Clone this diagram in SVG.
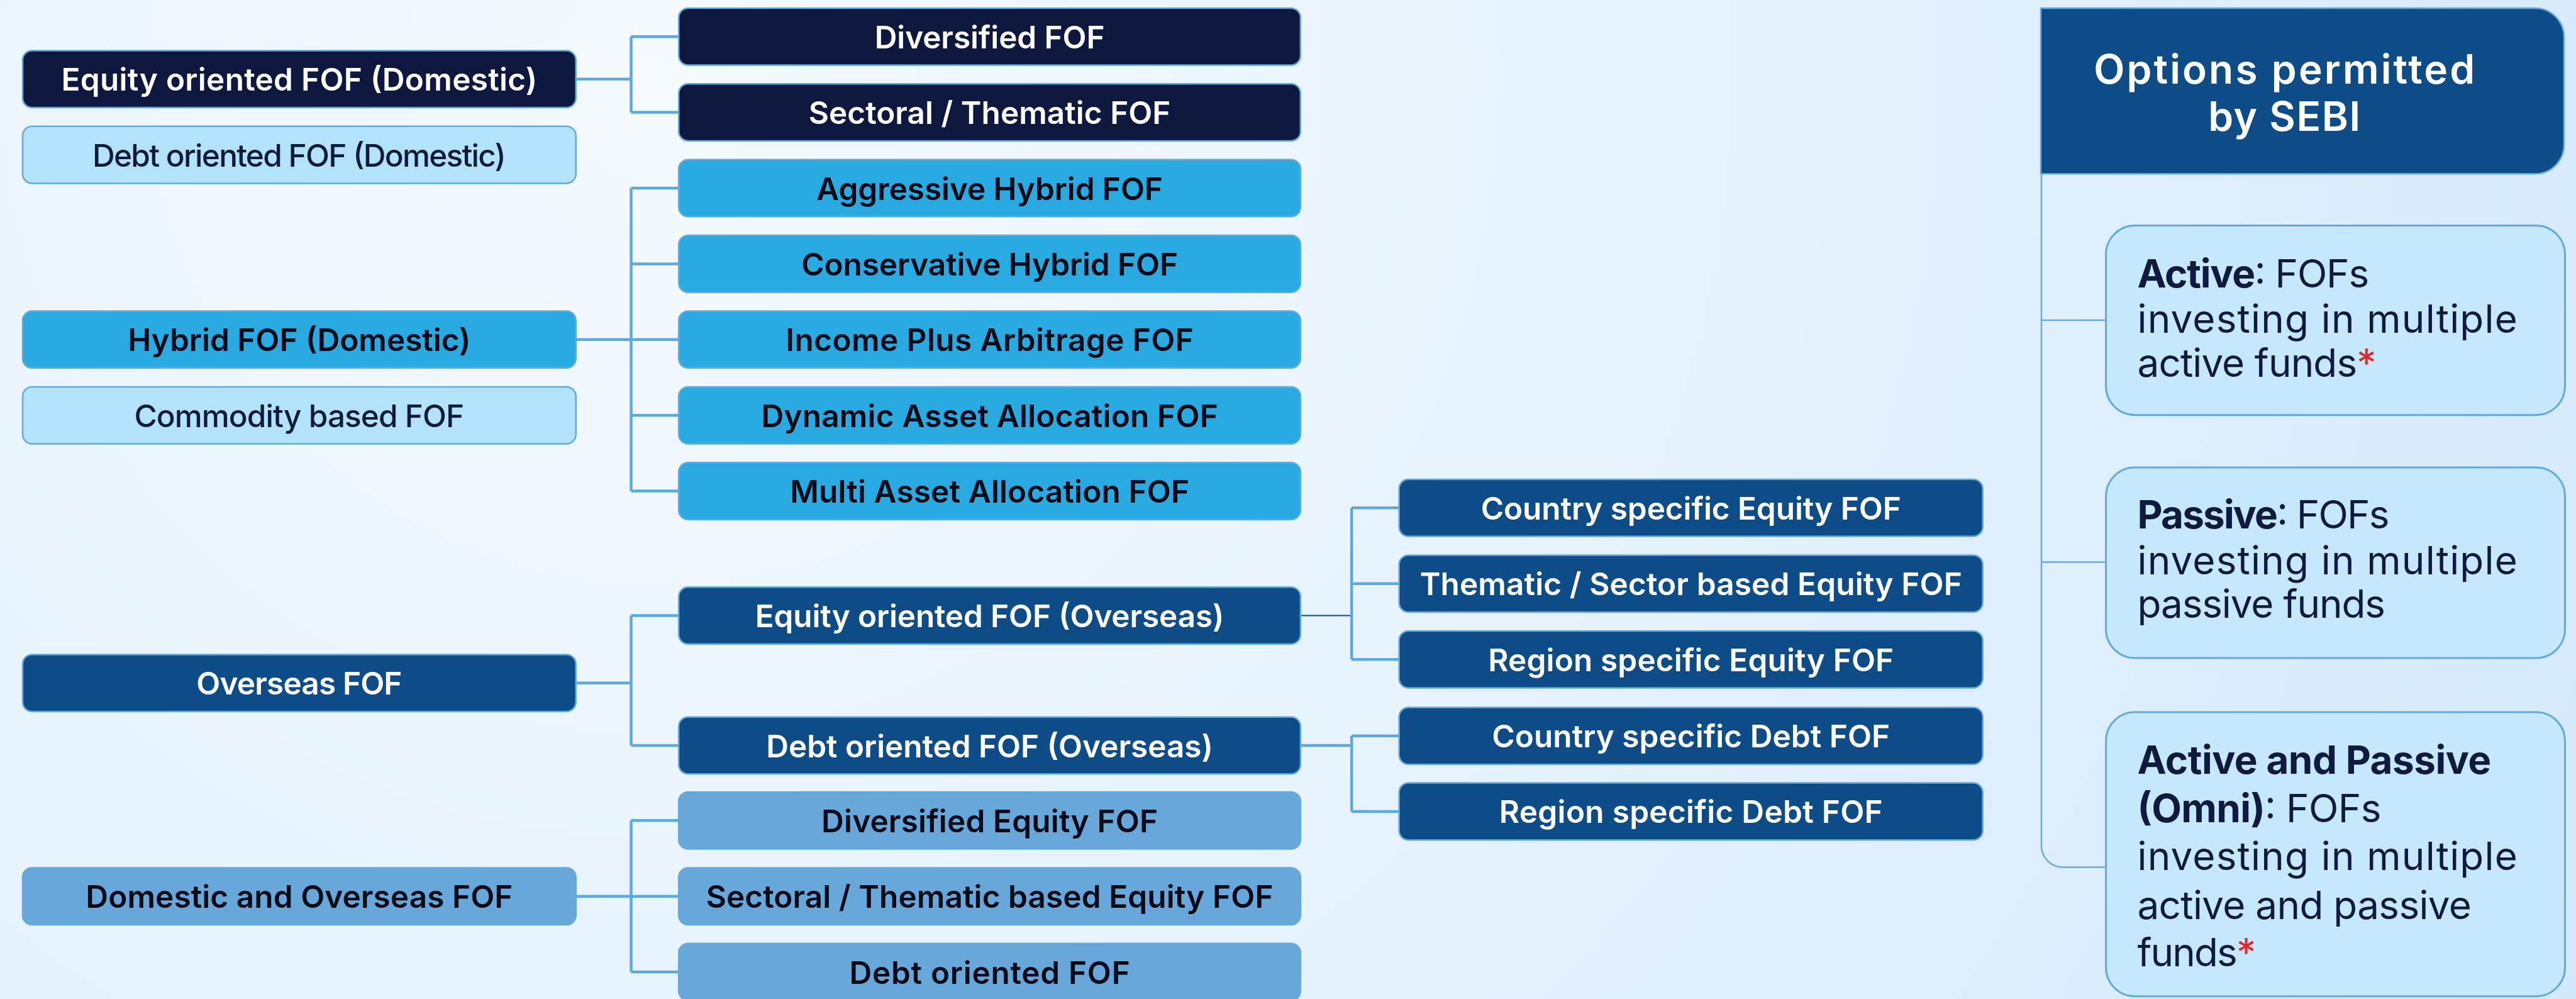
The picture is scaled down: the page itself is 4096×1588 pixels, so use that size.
<svg xmlns="http://www.w3.org/2000/svg" width="4096" height="1588" viewBox="0 0 4096 1588">
  <defs>
    <radialGradient id="bg" gradientUnits="userSpaceOnUse" cx="1050" cy="120" r="3600">
      <stop offset="0" stop-color="#f4fafe"/>
      <stop offset="0.45" stop-color="#e6f3fd"/>
      <stop offset="1" stop-color="#d2e7fb"/>
    </radialGradient>
    <style>
      .box { stroke: #62aade; stroke-width: 2.5; }
      .navy { fill: #0e173d; }
      .sky { fill: #29abe2; }
      .deep { fill: #0d4c87; }
      .steel { fill: #68a7d9; }
      .pale { fill: #b3e3fc; }
      .lbl { font-family: Inter, "Noto Sans", "Liberation Sans", sans-serif; font-size: 49.5px; font-weight: 600; text-anchor: middle; }
      .w { fill: #ffffff; }
      .k { fill: #070b17; }
      .n { fill: #0f1a3e; font-weight: 500; }
      .link { fill: none; stroke: #5aa9df; stroke-width: 4.5; }
      .thin { fill: none; stroke: #0d4c87; stroke-width: 2; }
      .rail { fill: none; stroke: #68ace0; stroke-width: 2.5; }
      .opt { fill: #c6e8fd; stroke: #62aade; stroke-width: 3; }
      .body { font-family: Inter, "Noto Sans", "Liberation Sans", sans-serif; font-size: 62px; fill: #0f1a3e; font-weight: 400; }
      .b { font-weight: 700; }
      .star { fill: #e3262b; }
      .head { font-family: Inter, "Noto Sans", "Liberation Sans", sans-serif; font-size: 64px; font-weight: 600; fill: #ffffff; text-anchor: middle; }
    </style>
  </defs>

  <rect x="0" y="0" width="4096" height="1588" fill="url(#bg)"/>

  <!-- tree connectors -->
  <g id="connectors">
    <!-- Equity oriented FOF (Domestic) -->
    <path class="link" d="M915.7,125.7 H1003.5 M1003.5,58.2 V178.6 M1003.5,58.2 H1079.2 M1003.5,178.6 H1079.2"/>
    <!-- Hybrid FOF (Domestic) -->
    <path class="link" d="M915.7,539.8 H1079.2 M1003.5,299 V780.6 M1003.5,299 H1079.2 M1003.5,419.4 H1079.2 M1003.5,660.2 H1079.2 M1003.5,780.6 H1079.2"/>
    <!-- Overseas FOF -->
    <path class="link" d="M915.7,1085.7 H1003.5 M1003.5,978.5 V1185 M1003.5,978.5 H1079.2 M1003.5,1185 H1079.2"/>
    <!-- Domestic and Overseas FOF -->
    <path class="link" d="M915.7,1424.8 H1079.2 M1003.5,1304.2 V1545 M1003.5,1304.2 H1079.2 M1003.5,1545 H1079.2"/>
    <!-- Equity oriented FOF (Overseas) -->
    <path class="thin" d="M2067.9,978.5 H2149.2"/>
    <path class="link" d="M2149.2,807.2 V1048.3 M2149.2,807.2 H2224.6 M2149.2,927.7 H2224.6 M2149.2,1048.3 H2224.6"/>
    <!-- Debt oriented FOF (Overseas) -->
    <path class="link" d="M2067.9,1185 H2149.2 M2149.2,1169.8 V1289.9 M2149.2,1169.8 H2224.6 M2149.2,1289.9 H2224.6"/>
    <!-- options rail -->
    <path class="rail" d="M3246,276.3 V1344.6 A34,34 0 0 0 3280,1378.6 H3348.6 M3246,509.1 H3348.6 M3246,893.5 H3348.6"/>
  </g>

  <!-- left column -->
  <g id="equity-domestic">
    <rect class="box navy" x="36" y="80.4" width="879.7" height="90.6" rx="15"/>
    <text class="lbl w" x="475.9" y="144.2" textLength="756.8">Equity oriented FOF (Domestic)</text>
  </g>
  <g id="debt-domestic">
    <rect class="box pale" x="36" y="200.8" width="879.7" height="90.6" rx="15"/>
    <text class="lbl n" x="475.9" y="264.6" textLength="657.9">Debt oriented FOF (Domestic)</text>
  </g>
  <g id="hybrid-domestic">
    <rect class="box sky" x="36" y="494.5" width="879.7" height="90.6" rx="15"/>
    <text class="lbl k" x="475.9" y="558.3" textLength="545.2">Hybrid FOF (Domestic)</text>
  </g>
  <g id="commodity">
    <rect class="box pale" x="36" y="614.9" width="879.7" height="90.6" rx="15"/>
    <text class="lbl n" x="475.9" y="678.7" textLength="524.8">Commodity based FOF</text>
  </g>
  <g id="overseas">
    <rect class="box deep" x="36" y="1040.4" width="879.7" height="90.6" rx="15"/>
    <text class="lbl w" x="475.9" y="1104.2" textLength="327.1">Overseas FOF</text>
  </g>
  <g id="domestic-overseas">
    <rect class="box steel" x="36" y="1379.5" width="879.7" height="90.6" rx="15"/>
    <text class="lbl k" x="475.9" y="1443.3" textLength="679.1">Domestic and Overseas FOF</text>
  </g>

  <!-- middle column -->
  <g id="diversified">
    <rect class="box navy" x="1079.2" y="12.9" width="988.7" height="90.6" rx="15"/>
    <text class="lbl w" x="1573.6" y="76.7" textLength="365.9">Diversified FOF</text>
  </g>
  <g id="sectoral-thematic">
    <rect class="box navy" x="1079.2" y="133.3" width="988.7" height="90.6" rx="15"/>
    <text class="lbl w" x="1573.6" y="197.1" textLength="575.7">Sectoral / Thematic FOF</text>
  </g>
  <g id="aggressive-hybrid">
    <rect class="box sky" x="1079.2" y="253.7" width="988.7" height="90.6" rx="15"/>
    <text class="lbl k" x="1573.6" y="317.5" textLength="550.7">Aggressive Hybrid FOF</text>
  </g>
  <g id="conservative-hybrid">
    <rect class="box sky" x="1079.2" y="374.1" width="988.7" height="90.6" rx="15"/>
    <text class="lbl k" x="1573.6" y="437.9" textLength="598.8">Conservative Hybrid FOF</text>
  </g>
  <g id="income-plus-arbitrage">
    <rect class="box sky" x="1079.2" y="494.5" width="988.7" height="90.6" rx="15"/>
    <text class="lbl k" x="1573.6" y="558.3" textLength="648.6">Income Plus Arbitrage FOF</text>
  </g>
  <g id="dynamic-asset-allocation">
    <rect class="box sky" x="1079.2" y="614.9" width="988.7" height="90.6" rx="15"/>
    <text class="lbl k" x="1573.6" y="678.7" textLength="726.3">Dynamic Asset Allocation FOF</text>
  </g>
  <g id="multi-asset-allocation">
    <rect class="box sky" x="1079.2" y="735.3" width="988.7" height="90.6" rx="15"/>
    <text class="lbl k" x="1573.6" y="799.1" textLength="634.8">Multi Asset Allocation FOF</text>
  </g>
  <g id="equity-overseas">
    <rect class="box deep" x="1079.2" y="933.2" width="988.7" height="90.6" rx="15"/>
    <text class="lbl w" x="1573.6" y="997" textLength="745.7">Equity oriented FOF (Overseas)</text>
  </g>
  <g id="debt-overseas">
    <rect class="box deep" x="1079.2" y="1139.7" width="988.7" height="90.6" rx="15"/>
    <text class="lbl w" x="1573.6" y="1203.5" textLength="710.6">Debt oriented FOF (Overseas)</text>
  </g>
  <g id="diversified-equity">
    <rect class="box steel" x="1079.2" y="1258.9" width="988.7" height="90.6" rx="15"/>
    <text class="lbl k" x="1573.6" y="1322.7" textLength="535">Diversified Equity FOF</text>
  </g>
  <g id="sectoral-thematic-equity">
    <rect class="box steel" x="1079.2" y="1379.5" width="988.7" height="90.6" rx="15"/>
    <text class="lbl k" x="1573.6" y="1443.3" textLength="901.8">Sectoral / Thematic based Equity FOF</text>
  </g>
  <g id="debt-oriented">
    <rect class="box steel" x="1079.2" y="1499.7" width="988.7" height="90.6" rx="15"/>
    <text class="lbl k" x="1573.6" y="1563.5" textLength="446.3">Debt oriented FOF</text>
  </g>

  <!-- overseas sub-categories -->
  <g id="country-equity">
    <rect class="box deep" x="2224.6" y="761.9" width="928.1" height="90.6" rx="15"/>
    <text class="lbl w" x="2688.7" y="825.7" textLength="668.1">Country specific Equity FOF</text>
  </g>
  <g id="thematic-sector-equity">
    <rect class="box deep" x="2224.6" y="882.4" width="928.1" height="90.6" rx="15"/>
    <text class="lbl w" x="2688.7" y="946.2" textLength="862.1">Thematic / Sector based Equity FOF</text>
  </g>
  <g id="region-equity">
    <rect class="box deep" x="2224.6" y="1003" width="928.1" height="90.6" rx="15"/>
    <text class="lbl w" x="2688.7" y="1066.8" textLength="645">Region specific Equity FOF</text>
  </g>
  <g id="country-debt">
    <rect class="box deep" x="2224.6" y="1124.5" width="928.1" height="90.6" rx="15"/>
    <text class="lbl w" x="2688.7" y="1188.3" textLength="632.9">Country specific Debt FOF</text>
  </g>
  <g id="region-debt">
    <rect class="box deep" x="2224.6" y="1244.6" width="928.1" height="90.6" rx="15"/>
    <text class="lbl w" x="2688.7" y="1308.4" textLength="609.8">Region specific Debt FOF</text>
  </g>

  <!-- options panel -->
  <g id="options-header">
    <path class="box deep" d="M3245,12.9 H4031 A46,46 0 0 1 4077,58.9 V230.3 A46,46 0 0 1 4031,276.3 H3245 Z"/>
    <text class="head" x="3632.2" y="132.6" textLength="606.1">Options permitted</text>
    <text class="head" x="3632.2" y="207.9" textLength="242.1">by SEBI</text>
  </g>
  <g id="option-active">
    <rect class="opt" x="3348.6" y="358.5" width="729.9" height="301.2" rx="46"/>
    <text class="body" x="3398.5" y="457.4" textLength="368.7"><tspan class="b">Active</tspan>: FOFs</text>
    <text class="body" x="3398.5" y="528.5" textLength="604.3">investing in multiple</text>
    <text class="body" x="3398.5" y="598.8" textLength="379.8">active funds<tspan class="star">*</tspan></text>
  </g>
  <g id="option-passive">
    <rect class="opt" x="3348.6" y="742.9" width="729.9" height="303.1" rx="46"/>
    <text class="body" x="3398.5" y="839.9" textLength="401"><tspan class="b">Passive</tspan>: FOFs</text>
    <text class="body" x="3398.5" y="912.5" textLength="604.3">investing in multiple</text>
    <text class="body" x="3398.5" y="981.8" textLength="394.5">passive funds</text>
  </g>
  <g id="option-omni">
    <rect class="opt" x="3348.6" y="1131.9" width="729.9" height="451.8" rx="46"/>
    <text class="body" x="3398.5" y="1229.8" textLength="562.7"><tspan class="b">Active and Passive</tspan></text>
    <text class="body" x="3398.5" y="1306.5" textLength="388"><tspan class="b">(Omni)</tspan>: FOFs</text>
    <text class="body" x="3398.5" y="1383.2" textLength="604.3">investing in multiple</text>
    <text class="body" x="3398.5" y="1460.8" textLength="531.3">active and passive</text>
    <text class="body" x="3398.5" y="1535.7" textLength="188.5">funds<tspan class="star">*</tspan></text>
  </g>
</svg>
